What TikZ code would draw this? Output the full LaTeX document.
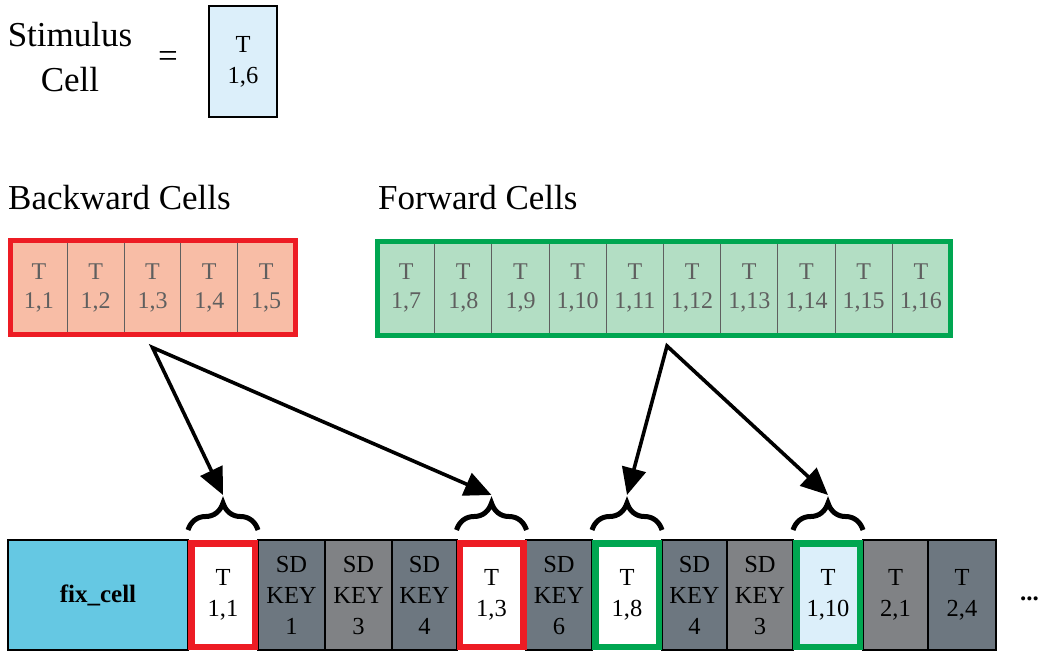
\documentclass[tikz,border=0pt]{standalone}
\usepackage{fontspec}
\setmainfont{Liberation Serif}
\usetikzlibrary{positioning, arrows.meta, decorations.pathreplacing, fit}

\definecolor{stimblue}{RGB}{220, 239, 250}
\definecolor{backred}{RGB}{237, 28, 36}
\definecolor{backfill}{RGB}{248, 189, 166}
\definecolor{fwdgreen}{RGB}{0, 166, 81}
\definecolor{fwdfill}{RGB}{179, 222, 196}
\definecolor{fixcyan}{RGB}{101, 200, 227}
\definecolor{keydark}{RGB}{109, 119, 128}
\definecolor{keylight}{RGB}{128, 130, 133}
\definecolor{cellgray}{RGB}{95, 95, 95}

\tikzset{
  bigtext/.style={inner sep=0pt, font=\fontsize{35}{45}\selectfont},
  cell/.style={draw=black, line width=1.2pt, minimum height=110pt, inner sep=0pt,
    align=center, font=\fontsize{24.5}{31}\selectfont},
  keycell/.style={cell, fill=keydark},
  hlcell/.style={cell, line width=6.5pt, minimum height=103.5pt, minimum width=63.5pt},
  topcell/.style={draw=cellgray, line width=1pt, minimum height=93pt, inner sep=0pt,
    align=center, text=cellgray, font=\fontsize{24}{29}\selectfont},
  fetch/.style={{Triangle[length=27pt, width=24pt]}-{Triangle[length=27pt, width=24pt]}, line width=3.6pt},
  curl/.style={decorate, decoration={brace, amplitude=27pt}, line width=5pt}
}

\begin{document}
\begin{tikzpicture}[x=1pt, y=-1pt]
  \useasboundingbox (0,0) rectangle (1040,651);

  % Stimulus cell
  \node[bigtext, align=center] (stimlabel) at (70, 57.5) {Stimulus\\Cell};
  \node[bigtext] (eq) at (168, 59) {=};
  \node[cell, fill=stimblue, minimum width=68pt, minimum height=111pt] (stim) at (243, 61.5) {T\\1,6};

  % Backward and forward cells
  \node[bigtext, anchor=base west] (backlabel) at (8, 209) {Backward Cells};
  \node[bigtext, anchor=base west] (fwdlabel) at (378, 209) {Forward Cells};

  \foreach \i in {1,...,5}
    \node[topcell, fill=backfill, minimum width=56.8pt] (b\i) at ({10.5+56.8*(\i-0.5)}, 287.5) {T\\1,\i};
  \node[fit=(b1)(b5), draw=backred, line width=5pt, inner sep=0pt] (backframe) {};

  \foreach \i in {1,...,10} {
    \pgfmathtruncatemacro\n{\i+6}
    \node[topcell, fill=fwdfill, minimum width=57.2pt] (f\i) at ({377.5+57.2*(\i-0.5)}, 288) {T\\1,\n};
  }
  \node[fit=(f1)(f10), draw=fwdgreen, line width=5pt, inner sep=0pt] (fwdframe) {};

  % Packet row
  \node[cell, fill=fixcyan, minimum width=180pt, font=\fontsize{25}{31}\selectfont\bfseries] (fix) at (98, 595) {fix\_cell};
  \node[keycell, minimum width=67pt] (k1) at (291.5, 595) {SD\\KEY\\1};
  \node[keycell, fill=keylight, minimum width=67pt] (k3) at (358.5, 595) {SD\\KEY\\3};
  \node[keycell, minimum width=65pt] (k4) at (424.5, 595) {SD\\KEY\\4};
  \node[keycell, minimum width=66pt] (k6) at (559, 595) {SD\\KEY\\6};
  \node[keycell, minimum width=65pt] (k4b) at (694.5, 595) {SD\\KEY\\4};
  \node[keycell, fill=keylight, minimum width=66pt] (k3b) at (760, 595) {SD\\KEY\\3};
  \node[keycell, fill=keylight, minimum width=65pt] (t21) at (895.5, 595) {T\\2,1};
  \node[keycell, minimum width=68pt] (t24) at (962, 595) {T\\2,4};

  \node[hlcell, draw=backred, fill=white] (t11) at (223, 595) {T\\1,1};
  \node[hlcell, draw=backred, fill=white] (t13) at (491.5, 595) {T\\1,3};
  \node[hlcell, draw=fwdgreen, fill=white] (t18) at (627, 595) {T\\1,8};
  \node[hlcell, draw=fwdgreen, fill=stimblue] (t110) at (828, 595) {T\\1,10};

  \node[inner sep=0pt, anchor=base west, font=\fontsize{25}{25}\selectfont\bfseries] (more) at (1020, 600.5) {...};

  % Braces over the picked cells
  \foreach \c in {t11, t13, t18, t110}
    \draw[curl] ([yshift=10pt]\c.north west) -- ([yshift=10pt]\c.north east);

  % Arrows
  \coordinate[below=13pt of b3] (bsrc);
  \coordinate (fsrc) at ([xshift=3pt, yshift=-11pt]f5.south east);
  \coordinate[above=45pt of t11] (tip11);
  \coordinate[above=45pt of t13] (tip13);
  \coordinate[above=45pt of t18] (tip18);
  \coordinate[above=45pt of t110] (tip110);

  \draw[fetch] (tip11) -- (bsrc) -- (tip13);
  \draw[fetch] (tip18) -- (fsrc) -- (tip110);
\end{tikzpicture}
\end{document}
